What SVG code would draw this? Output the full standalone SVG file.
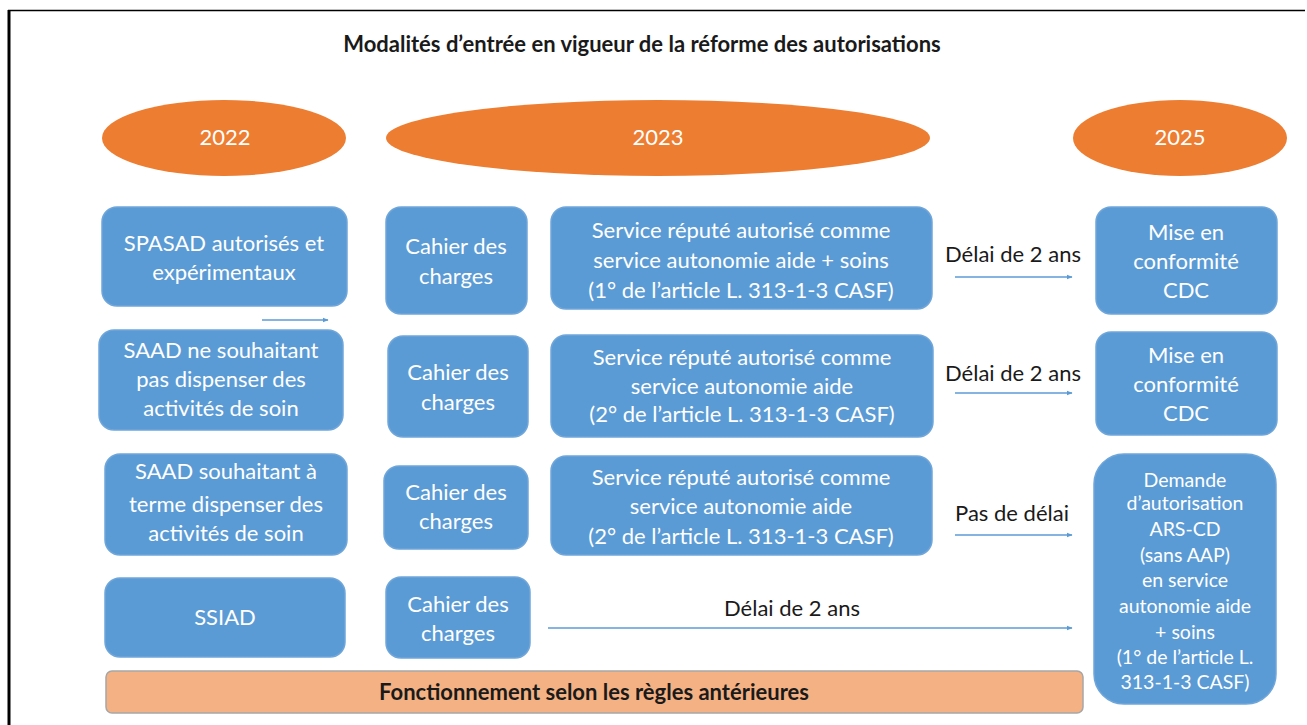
<svg xmlns="http://www.w3.org/2000/svg" width="1307" height="725" viewBox="0 0 1307 725">
<defs>
<marker id="ah" viewBox="0 0 10 10" refX="9" refY="5" markerWidth="6" markerHeight="6" orient="auto" markerUnits="userSpaceOnUse">
<path d="M0,1 L10,5 L0,9 z" fill="#5B9BD5"/>
</marker>
<style>
.t{font-family:Lato,"Open Sans","Liberation Sans",sans-serif;font-size:22px;text-anchor:middle;}
.w{fill:#ffffff;}
.k{fill:#1a1a1a;}
.b{fill:#5B9BD5;stroke:#6FA6DA;stroke-width:1.5;}
.e{fill:#ED7D31;}
.c{stroke:#5B9BD5;stroke-width:1.5;fill:none;marker-end:url(#ah);}
.s{font-size:19.5px;}
</style>
</defs>
<rect x="0" y="0" width="1307" height="725" fill="#ffffff"/>
<g id="frame">
<line x1="9" y1="10" x2="9" y2="725" stroke="#000" stroke-width="3"/>
<line x1="8" y1="10.5" x2="1305" y2="10.5" stroke="#000" stroke-width="1.5"/>
</g>
<g id="title"><text class="t k" x="642" y="52" font-weight="bold" font-size="23">Modalités d’entrée en vigueur de la réforme des autorisations</text></g>
<g id="y2022"><ellipse class="e" cx="224" cy="138" rx="122" ry="38"/><text class="t w" x="225" y="145" font-size="20">2022</text></g>
<g id="y2023"><ellipse class="e" cx="658" cy="138" rx="272" ry="38"/><text class="t w" x="658" y="145" font-size="20">2023</text></g>
<g id="y2025"><ellipse class="e" cx="1180" cy="138" rx="107" ry="38"/><text class="t w" x="1180" y="145" font-size="20">2025</text></g>

<g id="spasad"><rect class="b" x="102" y="207" width="245" height="99" rx="15"/><text class="t w" x="224" y="251">SPASAD autorisés et</text><text class="t w" x="224" y="280">expérimentaux</text></g>
<g id="cdc1"><rect class="b" x="386" y="207" width="141" height="107" rx="15"/><text class="t w" x="456" y="254">Cahier des</text><text class="t w" x="456" y="284">charges</text></g>
<g id="srv1"><rect class="b" x="551" y="207" width="381" height="102" rx="15"/><text class="t w" x="741" y="238">Service réputé autorisé comme</text><text class="t w" x="741" y="268">service autonomie aide + soins</text><text class="t w" x="741" y="298">(1° de l’article L. 313-1-3 CASF)</text></g>
<g id="mise1"><rect class="b" x="1096" y="207" width="181" height="107" rx="15"/><text class="t w" x="1186" y="240">Mise en</text><text class="t w" x="1186" y="269">conformité</text><text class="t w" x="1186" y="298">CDC</text></g>

<g id="saad1"><rect class="b" x="99" y="330" width="244" height="100" rx="15"/><text class="t w" x="221" y="358">SAAD ne souhaitant</text><text class="t w" x="221" y="387">pas dispenser des</text><text class="t w" x="221" y="416">activités de soin</text></g>
<g id="cdc2"><rect class="b" x="388" y="336" width="140" height="101" rx="15"/><text class="t w" x="458" y="380">Cahier des</text><text class="t w" x="458" y="410">charges</text></g>
<g id="srv2"><rect class="b" x="551" y="335" width="382" height="102" rx="15"/><text class="t w" x="742" y="365">Service réputé autorisé comme</text><text class="t w" x="742" y="394">service autonomie aide</text><text class="t w" x="742" y="422">(2° de l’article L. 313-1-3 CASF)</text></g>
<g id="mise2"><rect class="b" x="1096" y="332" width="181" height="103" rx="15"/><text class="t w" x="1186" y="363">Mise en</text><text class="t w" x="1186" y="392">conformité</text><text class="t w" x="1186" y="421">CDC</text></g>

<g id="saad2"><rect class="b" x="105" y="454" width="242" height="101" rx="15"/><text class="t w" x="226" y="479">SAAD souhaitant à</text><text class="t w" x="226" y="512">terme dispenser des</text><text class="t w" x="226" y="541">activités de soin</text></g>
<g id="cdc3"><rect class="b" x="384" y="466" width="144" height="83" rx="15"/><text class="t w" x="456" y="500">Cahier des</text><text class="t w" x="456" y="529">charges</text></g>
<g id="srv3"><rect class="b" x="551" y="456" width="381" height="99" rx="15"/><text class="t w" x="741" y="485">Service réputé autorisé comme</text><text class="t w" x="741" y="514">service autonomie aide</text><text class="t w" x="741" y="544">(2° de l’article L. 313-1-3 CASF)</text></g>
<g id="demande"><rect class="b" x="1094" y="454" width="182" height="250" rx="30"/>
<text class="t w s" x="1185" y="487">Demande</text>
<text class="t w s" x="1185" y="510">d’autorisation</text>
<text class="t w s" x="1185" y="536">ARS-CD</text>
<text class="t w s" x="1185" y="562">(sans AAP)</text>
<text class="t w s" x="1185" y="587">en service</text>
<text class="t w s" x="1185" y="613">autonomie aide</text>
<text class="t w s" x="1185" y="639">+ soins</text>
<text class="t w s" x="1185" y="664">(1° de l’article L.</text>
<text class="t w s" x="1185" y="689">313-1-3 CASF)</text>
</g>

<g id="ssiad"><rect class="b" x="105" y="578" width="240" height="79" rx="15"/><text class="t w" x="225" y="625">SSIAD</text></g>
<g id="cdc4"><rect class="b" x="386" y="577" width="144" height="81" rx="15"/><text class="t w" x="458" y="612">Cahier des</text><text class="t w" x="458" y="641">charges</text></g>

<g id="bar"><rect x="106" y="671" width="977" height="42" rx="6" fill="#F4B183" stroke="#A6A6A6" stroke-width="1.5"/><text class="t k" x="594" y="700" font-weight="bold">Fonctionnement selon les règles antérieures</text></g>

<g id="connectors">
<line class="c" x1="262" y1="320" x2="328" y2="320"/>
<line class="c" x1="955" y1="277" x2="1072" y2="277"/>
<line class="c" x1="955" y1="393" x2="1072" y2="393"/>
<line class="c" x1="955" y1="535" x2="1072" y2="535"/>
<line class="c" x1="548" y1="628" x2="1072" y2="628"/>
</g>
<g id="labels">
<text class="t k" x="1013" y="262">Délai de 2 ans</text>
<text class="t k" x="1013" y="381">Délai de 2 ans</text>
<text class="t k" x="1012" y="521">Pas de délai</text>
<text class="t k" x="792" y="616">Délai de 2 ans</text>
</g>
</svg>
